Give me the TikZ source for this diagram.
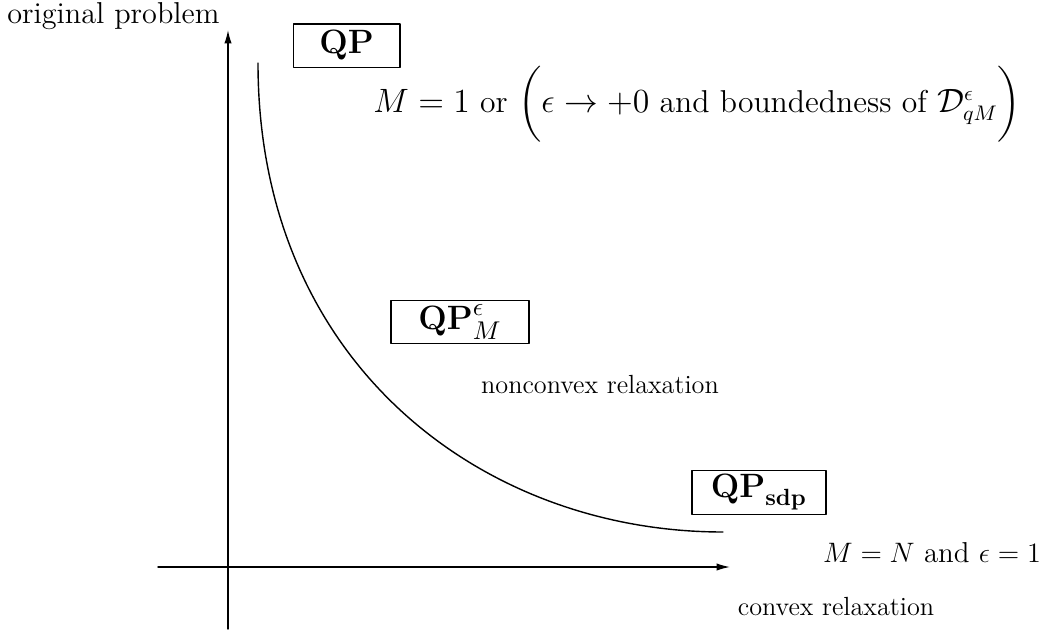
\documentclass[tikz,border=0pt]{standalone}
\usepackage{amsmath,amssymb}
\usepackage{tikz}
\usetikzlibrary{arrows.meta}
\usetikzlibrary{positioning}

\begin{document}
\begin{tikzpicture}[line cap=round, line join=round,
		probbox/.style={draw, line width=0.5pt, inner sep=2pt, minimum height=0.65cm, font=\fontsize{14}{16}\selectfont},
		lbl/.style={font=\fontsize{11.2}{13}\selectfont, inner sep=0pt},
		axis/.style={line width=0.6pt, -{Latex[length=2mm, width=1.1mm]}}]
	\useasboundingbox (-3.42,-0.93) rectangle (12.465,8.505);
	
	% Axes
	\coordinate (origin) at (0,0);
	\coordinate (ybot) at (0,-0.93);
	\coordinate (ytop) at (0,8.055);
	\coordinate (xleft) at (-1.05,0);
	\coordinate (xright) at (7.53,0);
	\draw[axis] (ybot) -- (ytop);
	\draw[axis] (xleft) -- (xright);
	
	\node[lbl, anchor=east, font=\fontsize{12.9}{14}\selectfont] (orig) at (-0.12,8.27) {original problem};
	\node[lbl] (convex) at (9.12,-0.6) {convex relaxation};
	
	% Relaxation curve
	\coordinate (cstart) at (0.45,7.56);
	\coordinate (cend) at (7.425,0.525);
	\draw[line width=0.6pt] (cstart) .. controls (0.45,3.06) and (3.81,0.525) .. (cend);
	
	% Problems
	\node[probbox, minimum width=1.6cm] (qp) at (1.78,7.82) {$\mathbf{QP}$};
	\node[probbox, minimum width=2.07cm, font=\fontsize{15}{17}\selectfont] (qpeps) at (3.48,3.675) {$\mathbf{QP}^{\epsilon}_{M}$};
	\node[probbox, minimum width=2.01cm, minimum height=0.615cm] (qpsdp) at (7.965,1.1175) {$\mathbf{QP}_{\mathbf{sdp}}$};
	
	% Conditions
	\node[lbl, font=\fontsize{13.5}{15}\selectfont] (cond1) at (7.04,6.945) {$M=1$ or $\biggl(\epsilon\to+0 \text{ and boundedness of } \mathcal{D}^{\epsilon}_{qM}\biggr)$};
	\node[lbl] (nonconvex) at (5.58,2.73) {nonconvex relaxation};
	\node[lbl, font=\fontsize{12.3}{14}\selectfont] (cond2) at (10.56,0.21) {$M=N$ and $\epsilon=1$};
\end{tikzpicture}
\end{document}
